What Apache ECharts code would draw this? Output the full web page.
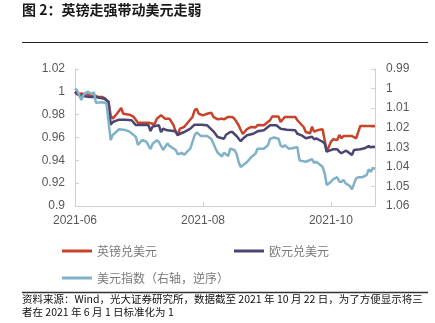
<!DOCTYPE html>
<html>
<head>
<meta charset="utf-8">
<script src="https://cdn.jsdelivr.net/npm/echarts@6/dist/echarts.min.js"></script>
<style>
html,body{margin:0;padding:0;background:#fff;}
#chart{width:435px;height:323px;}
</style>
</head>
<body>
<div id="chart"></div>
<script>
// ---------- data ----------
const titleText = '图 2：英镑走强带动美元走弱';
const sourceLine1 = '资料来源：Wind，光大证券研究所，数据截至 2021 年 10 月 22 日，为了方便显示将三';
const sourceLine2 = '者在 2021 年 6 月 1 日标准化为 1';
const seriesNames = ['英镑兑美元', '欧元兑美元', '美元指数（右轴，逆序）'];

const xStart = '2021-06-01';
const xEnd = '2021-10-22';
const xTickDates = ['2021-06-01', '2021-08-01', '2021-10-01'];
const xTickLabels = ['2021-06', '2021-08', '2021-10'];
const leftTicks = [0.9, 0.92, 0.94, 0.96, 0.98, 1, 1.02];
const rightTicks = [0.99, 1, 1.01, 1.02, 1.03, 1.04, 1.05, 1.06];

const gbpDates = ['2021-06-01','2021-06-02','2021-06-04','2021-06-07','2021-06-10','2021-06-12','2021-06-14','2021-06-15','2021-06-17','2021-06-18','2021-06-19','2021-06-21','2021-06-23','2021-06-24','2021-06-27','2021-06-29','2021-07-01','2021-07-06','2021-07-08','2021-07-09','2021-07-10','2021-07-12','2021-07-14','2021-07-16','2021-07-18','2021-07-19','2021-07-20','2021-07-21','2021-07-23','2021-07-25','2021-07-27','2021-07-28','2021-07-29','2021-07-30','2021-08-01','2021-08-03','2021-08-05','2021-08-06','2021-08-08','2021-08-10','2021-08-11','2021-08-13','2021-08-15','2021-08-16','2021-08-18','2021-08-19','2021-08-20','2021-08-22','2021-08-24','2021-08-26','2021-08-27','2021-08-30','2021-09-02','2021-09-03','2021-09-06','2021-09-07','2021-09-09','2021-09-14','2021-09-15','2021-09-18','2021-09-19','2021-09-21','2021-09-22','2021-09-23','2021-09-25','2021-09-27','2021-09-28','2021-09-29','2021-10-01','2021-10-02','2021-10-04','2021-10-05','2021-10-06','2021-10-07','2021-10-11','2021-10-13','2021-10-15','2021-10-22'];
const gbpValues = [1.0,0.9977,0.9985,0.9977,0.9970,0.9955,0.9955,0.9946,0.9911,0.9794,0.9765,0.9808,0.9858,0.9808,0.9800,0.9780,0.9730,0.9730,0.9721,0.9721,0.9765,0.9794,0.9765,0.9765,0.9707,0.9650,0.9617,0.9677,0.9692,0.9736,0.9780,0.9838,0.9852,0.9808,0.9794,0.9808,0.9817,0.9780,0.9759,0.9765,0.9759,0.9780,0.9780,0.9765,0.9707,0.9666,0.9631,0.9674,0.9692,0.9688,0.9709,0.9707,0.9751,0.9784,0.9784,0.9736,0.9780,0.9780,0.9751,0.9692,0.9648,0.9637,0.9695,0.9651,0.9666,0.9672,0.9578,0.9476,0.9563,0.9584,0.9578,0.9622,0.9593,0.9613,0.9613,0.9593,0.9701,0.9701];

const eurDates = ['2021-06-01','2021-06-03','2021-06-05','2021-06-08','2021-06-11','2021-06-15','2021-06-17','2021-06-18','2021-06-19','2021-06-22','2021-06-25','2021-06-28','2021-06-30','2021-07-06','2021-07-07','2021-07-08','2021-07-11','2021-07-12','2021-07-13','2021-07-15','2021-07-19','2021-07-20','2021-07-23','2021-07-26','2021-07-28','2021-07-31','2021-08-03','2021-08-06','2021-08-08','2021-08-11','2021-08-12','2021-08-14','2021-08-15','2021-08-17','2021-08-19','2021-08-20','2021-08-22','2021-08-25','2021-08-27','2021-08-30','2021-09-02','2021-09-05','2021-09-07','2021-09-10','2021-09-14','2021-09-15','2021-09-17','2021-09-19','2021-09-22','2021-09-23','2021-09-24','2021-09-27','2021-09-28','2021-09-29','2021-10-01','2021-10-02','2021-10-04','2021-10-05','2021-10-06','2021-10-08','2021-10-09','2021-10-11','2021-10-12','2021-10-15','2021-10-17','2021-10-19','2021-10-20','2021-10-21','2021-10-22'];
const eurValues = [1.0,0.9970,0.9963,0.9955,0.9955,0.9940,0.9911,0.9712,0.9736,0.9756,0.9756,0.9751,0.9709,0.9709,0.9657,0.9696,0.9707,0.9648,0.9677,0.9663,0.9654,0.9624,0.9648,0.9677,0.9712,0.9712,0.9707,0.9654,0.9604,0.9589,0.9624,0.9648,0.9648,0.9613,0.9567,0.9589,0.9619,0.9633,0.9654,0.9663,0.9707,0.9707,0.9677,0.9668,0.9663,0.9633,0.9619,0.9593,0.9607,0.9584,0.9593,0.9563,0.9549,0.9476,0.9490,0.9497,0.9497,0.9476,0.9462,0.9484,0.9476,0.9447,0.9490,0.9497,0.9505,0.9525,0.9514,0.9519,0.9517];

const usdDates = ['2021-06-01','2021-06-02','2021-06-04','2021-06-05','2021-06-07','2021-06-09','2021-06-10','2021-06-11','2021-06-14','2021-06-16','2021-06-18','2021-06-19','2021-06-22','2021-06-25','2021-06-27','2021-06-30','2021-07-01','2021-07-03','2021-07-05','2021-07-07','2021-07-08','2021-07-10','2021-07-11','2021-07-13','2021-07-15','2021-07-16','2021-07-19','2021-07-20','2021-07-22','2021-07-23','2021-07-26','2021-07-28','2021-07-29','2021-07-31','2021-08-03','2021-08-05','2021-08-07','2021-08-08','2021-08-10','2021-08-11','2021-08-13','2021-08-14','2021-08-16','2021-08-17','2021-08-18','2021-08-19','2021-08-22','2021-08-24','2021-08-26','2021-08-27','2021-08-30','2021-09-01','2021-09-02','2021-09-04','2021-09-06','2021-09-07','2021-09-08','2021-09-09','2021-09-11','2021-09-13','2021-09-15','2021-09-16','2021-09-19','2021-09-22','2021-09-23','2021-09-24','2021-09-27','2021-09-28','2021-09-29','2021-10-01','2021-10-02','2021-10-04','2021-10-05','2021-10-06','2021-10-07','2021-10-08','2021-10-10','2021-10-11','2021-10-13','2021-10-14','2021-10-16','2021-10-18','2021-10-19','2021-10-20','2021-10-21','2021-10-22'];
const usdValues = [1.0,1.0009,1.0058,1.0033,1.0016,1.0028,1.0019,1.0072,1.0070,1.0075,1.0263,1.0237,1.0208,1.0212,1.0220,1.0247,1.0288,1.0263,1.0271,1.0309,1.0282,1.0264,1.0273,1.0314,1.0280,1.0293,1.0314,1.0336,1.0328,1.0339,1.0306,1.0239,1.0224,1.0242,1.0242,1.0258,1.0306,1.0327,1.0347,1.0328,1.0345,1.0307,1.0314,1.0333,1.0375,1.0401,1.0375,1.0350,1.0333,1.0307,1.0307,1.0290,1.0256,1.0250,1.0256,1.0290,1.0299,1.0290,1.0307,1.0304,1.0299,1.0367,1.0374,1.0361,1.0379,1.0374,1.0399,1.0433,1.0493,1.0476,1.0464,1.0453,1.0476,1.0476,1.0467,1.0484,1.0498,1.0515,1.0459,1.0453,1.0453,1.0442,1.0413,1.0425,1.0407,1.0410];

// ---------- helpers ----------
const DAY = 86400000;
const t0 = Date.parse(xStart);
const dayOf = s => Math.round((Date.parse(s) - t0) / DAY);
const pairs = (dates, vals) => dates.map((d, i) => [dayOf(d), vals[i]]);
const xMax = dayOf(xEnd);
const xTickDays = xTickDates.map(dayOf);
const xInterval = xTickDays[1] - xTickDays[0];

const COLORS = ['#C8432A', '#4A4674', '#80B1C8'];
const axisGray = '#D0D0D0';
const labelGray = '#595959';
const labelFont = 'Liberation Sans, Arial, sans-serif';
const cjkFont = '"Noto Sans CJK SC", sans-serif';

const chart = echarts.init(document.getElementById('chart'), null, {renderer: 'canvas'});
chart.setOption({
  animation: false,
  backgroundColor: '#fff',
  grid: {left: 75, right: 60, top: 69, bottom: 117, containLabel: false},
  xAxis: {
    type: 'value', min: 0, max: xMax, interval: xInterval,
    axisLine: {show: true, lineStyle: {color: axisGray, width: 1}},
    axisTick: {show: true, inside: true, length: 4, lineStyle: {color: axisGray}},
    splitLine: {show: false},
    axisLabel: {
      color: labelGray, fontSize: 12, fontFamily: labelFont, margin: 9,
      showMaxLabel: false,
      formatter: v => { const i = xTickDays.indexOf(Math.round(v)); return i >= 0 ? xTickLabels[i] : ''; }
    }
  },
  yAxis: [{
    type: 'value', min: leftTicks[0], max: leftTicks[leftTicks.length - 1], interval: 0.02,
    position: 'left',
    axisLine: {show: true, lineStyle: {color: axisGray, width: 1}},
    axisTick: {show: true, inside: true, length: 4, lineStyle: {color: axisGray}},
    splitLine: {show: false},
    axisLabel: {color: labelGray, fontSize: 12, fontFamily: labelFont, margin: 10}
  }, {
    type: 'value', min: rightTicks[0], max: rightTicks[rightTicks.length - 1], interval: 0.01,
    inverse: true, position: 'right',
    axisLine: {show: true, lineStyle: {color: axisGray, width: 1}},
    axisTick: {show: true, inside: true, length: 4, lineStyle: {color: axisGray}},
    splitLine: {show: false},
    axisLabel: {color: labelGray, fontSize: 12, fontFamily: labelFont, margin: 11}
  }],
  legend: [{
    data: [seriesNames[0], seriesNames[1]],
    left: 57, top: 240, orient: 'horizontal', itemGap: 77,
    icon: 'rect', itemWidth: 30, itemHeight: 3,
    textStyle: {color: '#7a7a7a', fontSize: 12, fontFamily: cjkFont}
  }, {
    data: [seriesNames[2]],
    left: 57, top: 267, orient: 'horizontal',
    icon: 'rect', itemWidth: 30, itemHeight: 3,
    textStyle: {color: '#7a7a7a', fontSize: 12, fontFamily: cjkFont}
  }],
  series: [{
    name: seriesNames[0], type: 'line', yAxisIndex: 0, showSymbol: false,
    data: pairs(gbpDates, gbpValues), color: COLORS[0],
    lineStyle: {width: 2.5, color: COLORS[0]}
  }, {
    name: seriesNames[1], type: 'line', yAxisIndex: 0, showSymbol: false,
    data: pairs(eurDates, eurValues), color: COLORS[1],
    lineStyle: {width: 2.5, color: COLORS[1]}
  }, {
    name: seriesNames[2], type: 'line', yAxisIndex: 1, showSymbol: false,
    data: pairs(usdDates, usdValues), color: COLORS[2],
    lineStyle: {width: 2.5, color: COLORS[2]}
  }],
  graphic: [
    {type: 'text', left: 22, top: 3, style: {text: titleText, fill: '#1a1a1a', font: 'bold 14px ' + cjkFont}},
    {type: 'line', shape: {x1: 22, y1: 42.5, x2: 428, y2: 42.5}, style: {stroke: '#222', lineWidth: 1}},
    {type: 'line', shape: {x1: 22, y1: 292.5, x2: 428, y2: 292.5}, style: {stroke: '#333', lineWidth: 1.5}},
    {type: 'text', left: 22, top: 294, style: {text: sourceLine1, fill: '#111', font: '10.5px ' + cjkFont}},
    {type: 'text', left: 22, top: 307, style: {text: sourceLine2, fill: '#111', font: '10.5px ' + cjkFont}}
  ]
});
</script>
</body>
</html>
